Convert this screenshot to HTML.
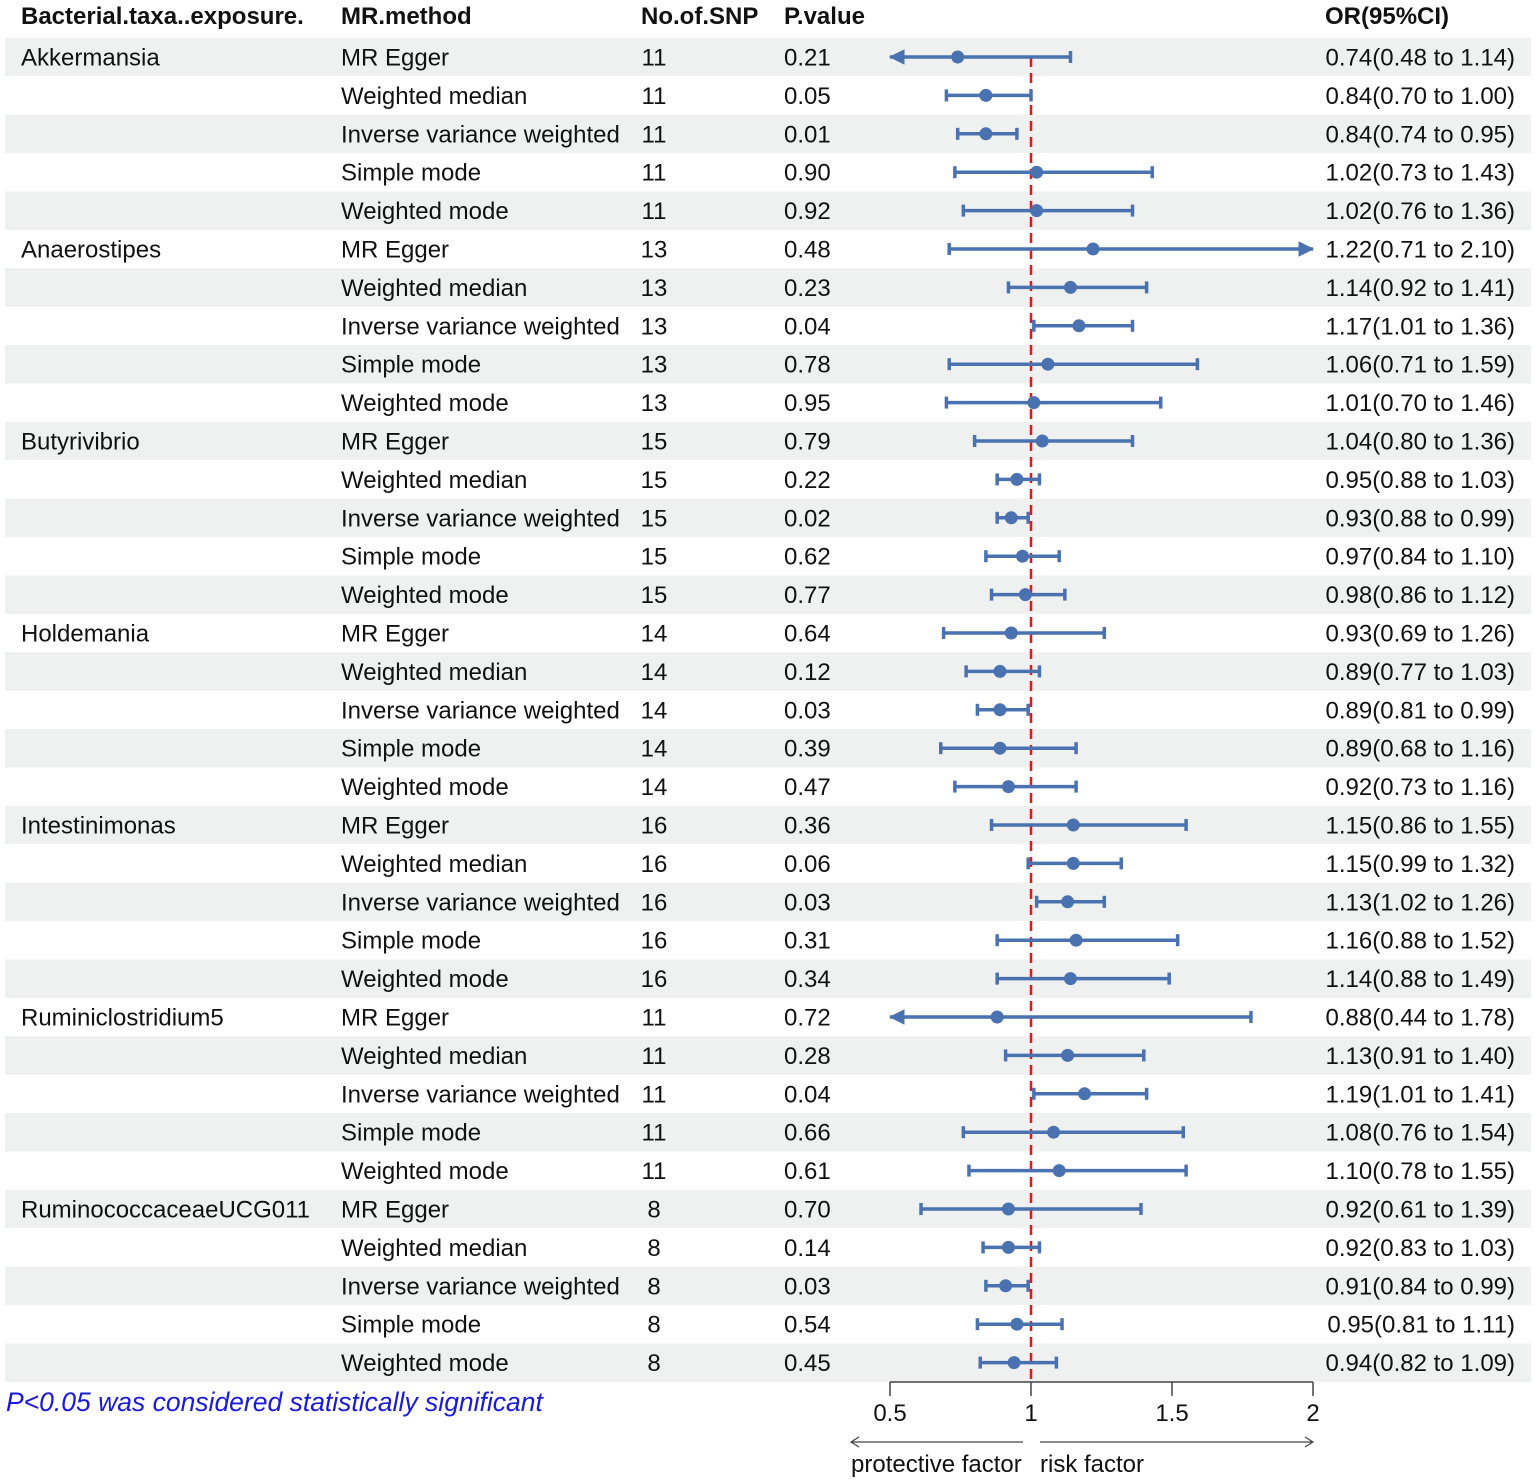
<!DOCTYPE html>
<html><head><meta charset="utf-8">
<style>
body{margin:0;background:#fff;}
svg{display:block;font-family:"Liberation Sans",Arial,sans-serif;}
</style></head>
<body>
<svg id="c" width="1535" height="1481"></svg>
<script>
const taxa=["Akkermansia","Anaerostipes","Butyrivibrio","Holdemania","Intestinimonas","Ruminiclostridium5","RuminococcaceaeUCG011"];
const methods=["MR Egger","Weighted median","Inverse variance weighted","Simple mode","Weighted mode"];
const snps=[11,13,15,14,16,11,8];
const pvals=["0.21","0.05","0.01","0.90","0.92","0.48","0.23","0.04","0.78","0.95","0.79","0.22","0.02","0.62","0.77","0.64","0.12","0.03","0.39","0.47","0.36","0.06","0.03","0.31","0.34","0.72","0.28","0.04","0.66","0.61","0.70","0.14","0.03","0.54","0.45"];
const orv=[0.74,0.84,0.84,1.02,1.02,1.22,1.14,1.17,1.06,1.01,1.04,0.95,0.93,0.97,0.98,0.93,0.89,0.89,0.89,0.92,1.15,1.15,1.13,1.16,1.14,0.88,1.13,1.19,1.08,1.10,0.92,0.92,0.91,0.95,0.94];
const lo=[0.48,0.70,0.74,0.73,0.76,0.71,0.92,1.01,0.71,0.70,0.80,0.88,0.88,0.84,0.86,0.69,0.77,0.81,0.68,0.73,0.86,0.99,1.02,0.88,0.88,0.44,0.91,1.01,0.76,0.78,0.61,0.83,0.84,0.81,0.82];
const hi=[1.14,1.00,0.95,1.43,1.36,2.10,1.41,1.36,1.59,1.46,1.36,1.03,0.99,1.10,1.12,1.26,1.03,0.99,1.16,1.16,1.55,1.32,1.26,1.52,1.49,1.78,1.40,1.41,1.54,1.55,1.39,1.03,0.99,1.11,1.09];
const ticks=[0.5,1,1.5,2];

const NS="http://www.w3.org/2000/svg";
const svg=document.getElementById('c');
function mk(tag,attrs,parent){const e=document.createElementNS(NS,tag);for(const k in attrs)e.setAttribute(k,attrs[k]);(parent||svg).appendChild(e);return e;}
const X=v=>1031+(v-1)*282;
const Y=i=>57+i*38.4;
const C="#4a72b0";
function txt(x,y,s,o){const t=mk('text',Object.assign({x:x,y:y,'font-size':24,fill:'#111'},o||{}));t.textContent=s;return t;}

for(let i=0;i<35;i+=2){
  const r=mk('rect',{x:5,y:Y(i)-19.2,width:1526,height:38.4,fill:'#eef1ef'});
  
  
}
const hd=[[21,"Bacterial.taxa..exposure."],[341,"MR.method"],[641,"No.of.SNP"],[784,"P.value"],[1325,"OR(95%CI)"]];
hd.forEach(h=>{const t=txt(h[0],24,h[1],{'font-weight':'bold'});
  
  });

const rl=mk('line',{x1:X(1),x2:X(1),y1:Y(0),y2:1382,stroke:'#e8141c','stroke-width':2.5,'stroke-dasharray':'10,6'});



for(let i=0;i<35;i++){
  const g=Math.floor(i/5),m=i%5,y=Y(i),ty=y+8.5;
  if(m===0){const t=txt(21,ty,taxa[g]);}
  const a=txt(341,ty,methods[m]);
  const b=txt(654,ty,String(snps[g]),{'text-anchor':'middle'});
  const c=txt(784,ty,pvals[i]);
  const d=txt(1515,ty,orv[i].toFixed(2)+"("+lo[i].toFixed(2)+" to "+hi[i].toFixed(2)+")",{'text-anchor':'end'});
  
  const l=Math.max(lo[i],0.5),h=Math.min(hi[i],2);
  const x1=X(l),x2=X(h);
  const ln=mk('line',{x1:x1,x2:x2,y1:y,y2:y,stroke:C,'stroke-width':3.5});
  
  if(lo[i]<0.5){const p=mk('path',{d:`M${x1},${y} l14,-7 l0,14 z`,fill:C,stroke:C,'stroke-width':1});}
  else{const p=mk('line',{x1:x1,x2:x1,y1:y-6,y2:y+6,stroke:C,'stroke-width':3.5});}
  if(hi[i]>2){const p=mk('path',{d:`M${x2},${y} l-14,-7 l0,14 z`,fill:C,stroke:C,'stroke-width':1});}
  else{const p=mk('line',{x1:x2,x2:x2,y1:y-6,y2:y+6,stroke:C,'stroke-width':3.5});}
  const pt=mk('circle',{cx:X(orv[i]),cy:y,r:6.5,fill:C});
  
}
const ax=mk('line',{x1:X(0.5),x2:X(2),y1:1382,y2:1382,stroke:'#444','stroke-width':1.5});

ticks.forEach(t=>{
  const l=mk('line',{x1:X(t),x2:X(t),y1:1382,y2:1396,stroke:'#444','stroke-width':1.5});
  
  const s=txt(X(t),1421,String(t),{'text-anchor':'middle'});
  
});
const a1=mk('path',{d:'M1023,1442 L851,1442 M859,1437 L851,1442 L859,1447',stroke:'#444','stroke-width':1.2,fill:'none'});

const a2=mk('path',{d:'M1040,1442 L1313,1442 M1305,1437 L1313,1442 L1305,1447',stroke:'#444','stroke-width':1.2,fill:'none'});

const pf=txt(851,1472,"protective factor");
const rf=txt(1040,1472,"risk factor");
const fn=txt(6,1411,"P<0.05 was considered statistically significant",{fill:'#1a1adc','font-style':'italic','font-size':26.5});

</script>
</body></html>
